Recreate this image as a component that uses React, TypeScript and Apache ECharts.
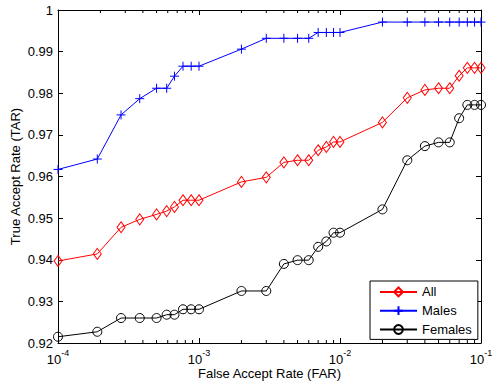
import React, { useEffect, useRef } from "react";
import * as echarts from "echarts";

const FONT = "'Liberation Sans', Arial, Helvetica, sans-serif";

const seriesNames = ["All", "Males", "Females"];
const far = [
  1e-4, 1.9e-4, 2.8e-4, 3.8e-4, 5e-4, 5.9e-4, 6.7e-4, 7.7e-4, 8.8e-4, 1e-3,
  2e-3, 3e-3, 4e-3, 5e-3, 6e-3, 7e-3, 8e-3, 9e-3, 1e-2,
  2e-2, 3e-2, 4e-2, 5e-2, 6e-2, 7e-2, 8e-2, 9e-2, 1e-1,
];
const tarAll = [
  0.9397, 0.9414, 0.9478, 0.9497, 0.9509, 0.9517, 0.9527, 0.9543, 0.9543, 0.9543,
  0.9587, 0.9598, 0.9634, 0.9639, 0.9639, 0.9663, 0.9671, 0.9683, 0.9683,
  0.973, 0.9789, 0.9808, 0.9812, 0.9812, 0.9842, 0.9861, 0.9861, 0.9861,
];
const tarMales = [
  0.9617, 0.9642, 0.9748, 0.9787, 0.9812, 0.9812, 0.9841, 0.9865, 0.9865, 0.9865,
  0.9906, 0.9932, 0.9932, 0.9932, 0.9932, 0.9946, 0.9946, 0.9946, 0.9946,
  0.9971, 0.9971, 0.9971, 0.9971, 0.9971, 0.9971, 0.9971, 0.9971, 0.9971,
];
const tarFemales = [
  0.9215, 0.9227, 0.926, 0.926, 0.926, 0.9268, 0.9268, 0.9281, 0.9281, 0.9281,
  0.9325, 0.9325, 0.939, 0.9399, 0.9399, 0.9431, 0.9444, 0.9465, 0.9465,
  0.9521, 0.9639, 0.9673, 0.9682, 0.9682, 0.974, 0.9772, 0.9772, 0.9772,
];
const X_MIN = 1e-4;
const X_MAX = 1e-1;
const Y_MIN = 0.92;
const Y_MAX = 1;
const Y_STEP = 0.01;
const minorMultipliers = [2, 3, 4, 5, 6, 7, 8, 9];
const decades = [-4, -3, -2];

export default function App() {
  const ref = useRef<HTMLDivElement>(null);
  useEffect(() => {
    if (!ref.current) return;
    const chart = echarts.init(ref.current, null, { renderer: "svg" });
    const zip = (ys: number[]) => far.map((x, i) => [x, ys[i]]);
    const minorTicks: number[][] = [];
    decades.forEach((d) =>
      minorMultipliers.forEach((m) => minorTicks.push([m * Math.pow(10, d), Y_MIN]))
    );
    const xLabel = (v: number) => `{b|10}{s|${Math.round(Math.log10(v))}}`;
    const lineSeries = (name: string, ys: number[], color: string, symbol: string, size: any) => ({
      name,
      type: "line",
      data: zip(ys),
      symbol,
      symbolSize: size,
      showAllSymbol: true,
      color,
      lineStyle: { color, width: 1 },
      itemStyle: { color: "none", borderColor: color, borderWidth: 1 },
      emphasis: { disabled: true },
      z: 3,
    });
    chart.setOption({
      animation: false,
      backgroundColor: "#fff",
      textStyle: { fontFamily: FONT },
      grid: { left: 58, top: 10, right: 11, bottom: 42, containLabel: false, outerBoundsMode: "none" },
      legend: {
        data: seriesNames,
        orient: "vertical",
        left: 370,
        top: 281,
        backgroundColor: "#fff",
        borderColor: "#000",
        borderWidth: 1,
        borderRadius: 0,
        padding: [4, 6, 3, 9],
        itemGap: 5,
        itemWidth: 37,
        itemHeight: 11,
        textStyle: { fontFamily: FONT, fontSize: 13, color: "#000" },
        selectedMode: false,
      },
      xAxis: [
        {
          type: "log",
          logBase: 10,
          min: X_MIN,
          max: X_MAX,
          name: "False Accept Rate (FAR)",
          nameLocation: "middle",
          nameGap: 24,
          nameMoveOverlap: false,
          nameTextStyle: { fontFamily: FONT, fontSize: 13, color: "#000" },
          axisLine: { lineStyle: { color: "#000", width: 1 } },
          axisTick: { inside: true, length: 5, lineStyle: { color: "#000" } },
          splitLine: { show: false },
          axisLabel: {
            formatter: xLabel,
            margin: 5,
            showMinLabel: true,
            showMaxLabel: true,
            rich: {
              b: { fontFamily: FONT, fontSize: 13, color: "#000", lineHeight: 18, verticalAlign: "bottom" },
              s: { fontFamily: FONT, fontSize: 9, color: "#000", lineHeight: 18, verticalAlign: "top" },
            },
          },
        },
        {
          type: "log",
          logBase: 10,
          min: X_MIN,
          max: X_MAX,
          position: "top",
          axisLine: { lineStyle: { color: "#000", width: 1 } },
          axisTick: { inside: true, length: 5, lineStyle: { color: "#000" } },
          axisLabel: { show: false },
          splitLine: { show: false },
        },
      ],
      yAxis: [
        {
          type: "value",
          min: Y_MIN,
          max: Y_MAX,
          interval: Y_STEP,
          name: "True Accept Rate (TAR)",
          nameLocation: "middle",
          nameGap: 36,
          nameMoveOverlap: false,
          nameTextStyle: { fontFamily: FONT, fontSize: 13, color: "#000" },
          axisLine: { show: true, lineStyle: { color: "#000", width: 1 } },
          axisTick: { show: true, inside: true, length: 5, lineStyle: { color: "#000" } },
          splitLine: { show: false },
          axisLabel: {
            margin: 5,
            fontFamily: FONT,
            fontSize: 13,
            color: "#000",
            formatter: (v: number) => String(+v.toFixed(2)),
          },
        },
        {
          type: "value",
          min: Y_MIN,
          max: Y_MAX,
          interval: Y_STEP,
          position: "right",
          axisLine: { show: true, lineStyle: { color: "#000", width: 1 } },
          axisTick: { show: true, inside: true, length: 5, lineStyle: { color: "#000" } },
          axisLabel: { show: false },
          splitLine: { show: false },
        },
      ],
      series: [
        lineSeries("All", tarAll, "#ff0000", "diamond", [8, 11]),
        lineSeries("Males", tarMales, "#0000ff", "path://M0,5L10,5M5,0L5,10", 9),
        lineSeries("Females", tarFemales, "#000000", "circle", 9),
        {
          name: "minorTicks",
          type: "custom",
          data: minorTicks,
          encode: { x: 0, y: 1 },
          clip: false,
          silent: true,
          z: 1,
          renderItem: (params: any, api: any) => {
            const v = api.value(0);
            const b = api.coord([v, Y_MIN]);
            const t = api.coord([v, Y_MAX]);
            return {
              type: "group",
              children: [
                { type: "line", shape: { x1: b[0], y1: b[1], x2: b[0], y2: b[1] - 3 }, style: { stroke: "#000", lineWidth: 1 } },
                { type: "line", shape: { x1: t[0], y1: t[1], x2: t[0], y2: t[1] + 3 }, style: { stroke: "#000", lineWidth: 1 } },
              ],
            };
          },
        },
      ],
    });
    return () => chart.dispose();
  }, []);
  return (
    <div
      ref={ref}
      style={{ position: "fixed", left: 0, top: 0, width: 492, height: 385, background: "#fff" }}
    />
  );
}
